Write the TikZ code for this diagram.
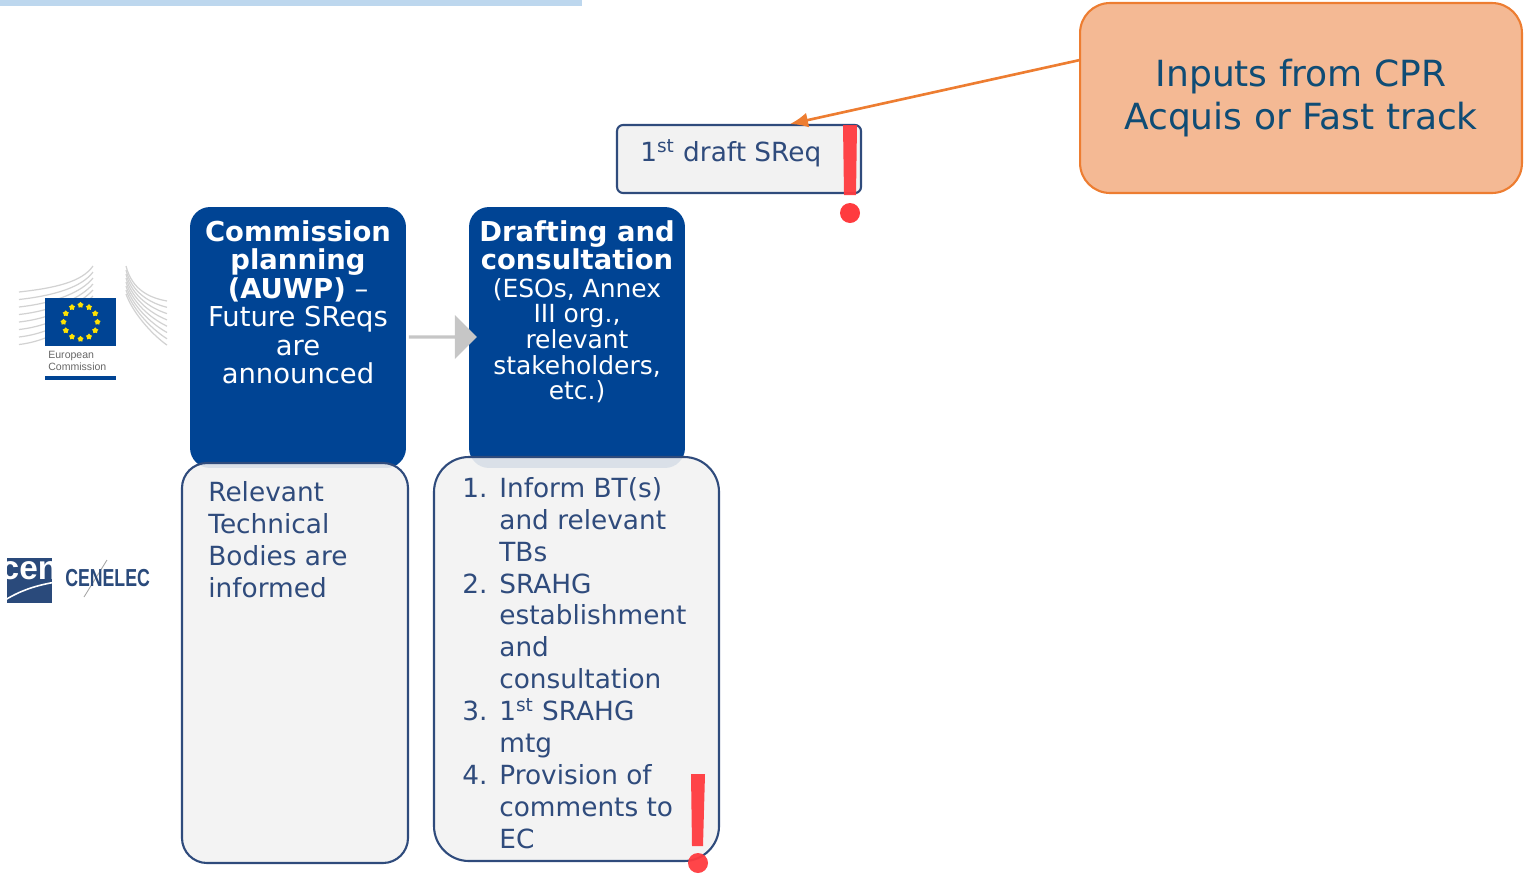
\documentclass[tikz,border=0pt]{standalone}
\usepackage{fontspec}
\setmainfont{DejaVu Sans}
\newfontfamily\logofont{Liberation Sans}
\usetikzlibrary{shapes.geometric,shapes.arrows,arrows.meta}
\definecolor{ecblue}{HTML}{004494}
\definecolor{panelline}{HTML}{2F4B7C}
\definecolor{panelfill}{HTML}{F2F2F2}
\definecolor{calloutfill}{HTML}{F4B994}
\definecolor{calloutline}{HTML}{ED7D31}
\definecolor{calloutink}{HTML}{0F4C75}
\definecolor{alertred}{HTML}{FF3B3F}
\definecolor{cenblue}{HTML}{2A4A7B}
\definecolor{topstrip}{HTML}{BDD7EE}
\tikzset{
    bluebox/.style={fill=ecblue,rounded corners=0.4cm,minimum width=4.32cm,minimum height=5.22cm},
    bluetext/.style={text=white,inner sep=0pt,align=center,anchor=north,font=\fontsize{15.6}{16.2}\selectfont},
    panelbox/.style={draw=panelline,line width=1.2pt,fill=panelfill,fill opacity=0.9,draw opacity=1},
    paneltext/.style={text=panelline,inner sep=0pt,align=left,anchor=north west,font=\fontsize{15}{18.15}\selectfont},
}
\newcommand{\listno}[1]{\makebox[0.74cm][l]{#1}}
\begin{document}
\begin{tikzpicture}[x=0.02cm,y=-0.02cm]
    \useasboundingbox (0,0) rectangle (1524,876);
    \fill[topstrip](0,0)rectangle(582,6);
    % European Commission
    \foreach \y in {0,...,7}{
        \draw[gray!35,line width=0.7pt](19,292+\y*7.5)..controls(55,288+\y*7.5)and(82,282+\y*5)..(93,266+\y*6);
        \draw[gray!35,line width=0.7pt](126,266+\y*4)..controls(132,290+\y*3)and(150,298+\y*5)..(167,301+\y*6.3);
    }
    \fill[ecblue](45,298)rectangle(116,346);
    \foreach \a in {0,30,...,330}{
        \node[star,star points=5,fill=yellow!85!orange,inner sep=0pt,minimum size=0.13cm] (star\a) at ({80.5+17*cos(\a)},{322+17*sin(\a)}) {};
    }
    \node[anchor=west,inner sep=0pt,text=gray!80!black,font=\logofont\fontsize{6}{6.8}\selectfont,align=left] (ecname) at (48,361) {European\\Commission};
    \fill[ecblue](45,376)rectangle(116,380);
    % CEN CENELEC
    \fill[cenblue](7,558)rectangle(52,603);
    \node[text=white,inner sep=0pt,font=\logofont\bfseries\fontsize{19}{19}\selectfont] (cenname) at (29.5,571) {cen};
    \draw[white,line width=0.9pt](2,602)..controls(20,590)and(38,585)..(56,582);
    \draw[gray!70,line width=0.5pt](84,597)--(107,560);
    \node[anchor=west,inner sep=0pt,text=cenblue,xscale=0.72,font=\logofont\bfseries\fontsize{14}{14}\selectfont] (cenelec) at (65,578) {CENELEC};
    % phases
    \node[bluebox] (planning) at (298,337.5) {};
    \node[bluebox] (drafting) at (577,337.5) {};
    \node[bluetext] (planningtext) at (298,220) {\textbf{Commission}\\\textbf{planning}\\\textbf{(AUWP)} --\\Future SReqs\\are\\announced};
    \node[bluetext] (draftingtitle) at (577,220) {\textbf{Drafting and}\\\textbf{consultation}};
    \node[bluetext,font=\fontsize{14.2}{14.6}\selectfont] (draftingtext) at (577,278) {(ESOs, Annex\\III org.,\\relevant\\stakeholders,\\etc.)};
    \node[single arrow,fill=gray!45,inner sep=0pt,minimum height=1.36cm,minimum width=0.88cm,single arrow head extend=0.09cm,single arrow tip angle=90,shape border rotate=0] (phasearrow) at (442,337) {};
    \draw[panelbox,rounded corners=0.5cm](182,463)rectangle(408,863);
    \draw[panelbox,rounded corners=0.7cm](434,457)rectangle(719,861);
    \node[paneltext] (bodies) at (208,481) {Relevant\\Technical\\Bodies are\\informed};
    \node[paneltext] (steps) at (462,477) {\listno{1.}Inform BT(s)\\\listno{}and relevant\\\listno{}TBs\\\listno{2.}SRAHG\\\listno{}establishment\\\listno{}and\\\listno{}consultation\\\listno{3.}1\textsuperscript{st} SRAHG\\\listno{}mtg\\\listno{4.}Provision of\\\listno{}comments to\\\listno{}EC};
    % draft and inputs
    \node[draw=panelline,line width=1.2pt,fill=panelfill,rounded corners=0.12cm,minimum width=4.88cm,minimum height=1.36cm] (draft) at (739,159) {};
    \node[text=panelline,inner sep=0pt,anchor=west,font=\fontsize{15}{18}\selectfont] (drafttext) at (640,153) {1\textsuperscript{st} draft SReq};
    \node[draw=calloutline,line width=1.2pt,fill=calloutfill,rounded corners=0.6cm,minimum width=8.84cm,minimum height=3.8cm,text=calloutink,align=center,font=\fontsize{20.5}{24.8}\selectfont] (callout) at (1301,98) {Inputs from CPR\\Acquis or Fast track};
    \coordinate (calloutexit) at (1080,60);
    \coordinate (drafttip) at (790,124);
    \draw[calloutline,line width=1.5pt,-{Latex[length=0.36cm,width=0.3cm]}](calloutexit)--(drafttip);
    % alerts
    \fill[alertred,opacity=0.95](843,125)--(857,125)--(856,195)--(844,195)--cycle;
    \fill[alertred](850,213)circle(10);
    \fill[alertred,opacity=0.95](691,774)--(705,774)--(703,846)--(692,846)--cycle;
    \fill[alertred,opacity=0.95](698,863)circle(10);
\end{tikzpicture}
\end{document}
